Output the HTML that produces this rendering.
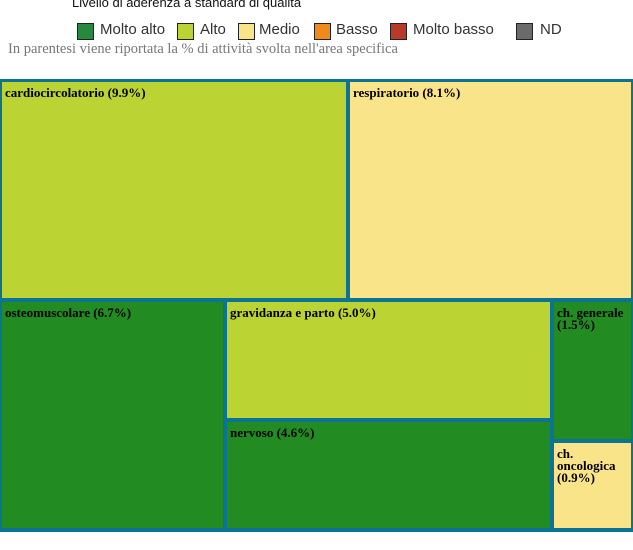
<!DOCTYPE html>
<html><head><style>
body{margin:0;width:633px;height:550px;background:#fff;position:relative;overflow:hidden;font-family:"Liberation Sans",sans-serif}
.a{position:absolute}
.r{position:absolute;font-family:"Liberation Serif",serif;font-weight:bold;font-size:13px;color:#000;line-height:12px;padding:5px 0 0 3px;box-sizing:border-box}
.sw{position:absolute;width:15px;height:15px;border:1.5px solid #222;top:23px}
.lg{position:absolute;font-size:15px;color:#333;top:21px}
</style></head><body>
<div class="a" style="left:72px;top:-5px;font-size:13px;color:#111">Livello di aderenza a standard di qualità</div>
<div class="sw" style="left:77px;background:#26893d"></div><div class="lg" style="left:100px">Molto alto</div>
<div class="sw" style="left:177px;background:#bcd334"></div><div class="lg" style="left:200px">Alto</div>
<div class="sw" style="left:238px;background:#f9e48a"></div><div class="lg" style="left:259px">Medio</div>
<div class="sw" style="left:314px;background:#f08a1c"></div><div class="lg" style="left:336px">Basso</div>
<div class="sw" style="left:390px;background:#b83a28"></div><div class="lg" style="left:413px">Molto basso</div>
<div class="sw" style="left:516px;background:#6b6b6b"></div><div class="lg" style="left:540px">ND</div>
<div class="a" style="left:8px;top:41px;font-family:'Liberation Serif',serif;font-size:14.5px;color:#777">In parentesi viene riportata la % di attività svolta nell'area specifica</div>
<div class="a" style="left:0;top:79px;width:633px;height:453px;background:#0b7394"></div>
<div class="r" style="left:2px;top:82px;width:344px;height:216px;background:#bcd334">cardiocircolatorio (9.9%)</div>
<div class="r" style="left:350px;top:82px;width:281px;height:216px;background:#f9e48a">respiratorio (8.1%)</div>
<div class="r" style="left:2px;top:302px;width:221px;height:226px;background:#228b22">osteomuscolare (6.7%)</div>
<div class="r" style="left:227px;top:302px;width:323px;height:116px;background:#bcd334">gravidanza e parto (5.0%)</div>
<div class="r" style="left:227px;top:422px;width:323px;height:106px;background:#228b22">nervoso (4.6%)</div>
<div class="r" style="left:554px;top:302px;width:77px;height:137px;background:#228b22">ch. generale<br>(1.5%)</div>
<div class="r" style="left:554px;top:443px;width:77px;height:85px;background:#f9e48a">ch.<br>oncologica<br>(0.9%)</div>
</body></html>
